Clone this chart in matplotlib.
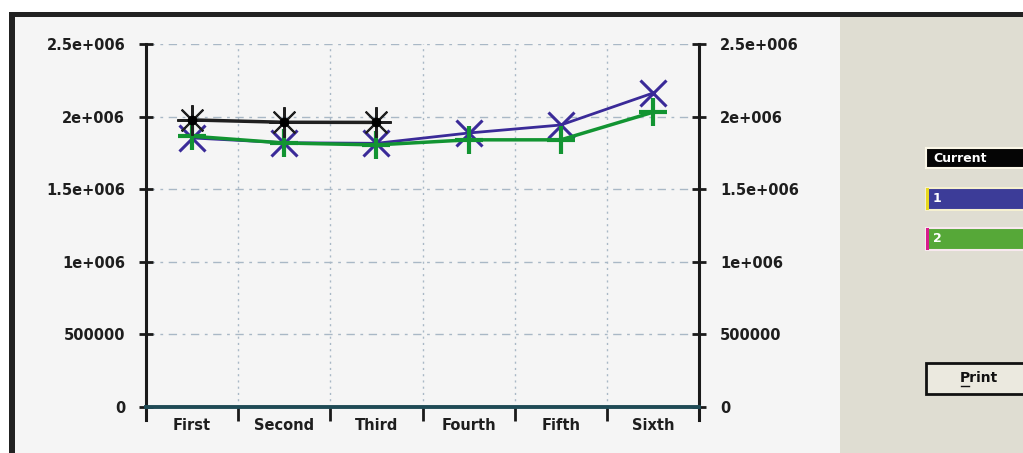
import matplotlib
matplotlib.use("Agg")
import matplotlib.pyplot as plt
from matplotlib.patches import Rectangle
import numpy as np

categories = ["First", "Second", "Third", "Fourth", "Fifth", "Sixth"]
current_vals = [1.977e6, 1.961e6, 1.960e6]
series1_vals = [1.853e6, 1.820e6, 1.816e6, 1.887e6, 1.942e6, 2.162e6]
series2_vals = [1.865e6, 1.818e6, 1.805e6, 1.840e6, 1.840e6, 2.030e6]
yticks = [0, 500000, 1000000, 1500000, 2000000, 2500000]
ytick_labels = ["0", "500000", "1e+006", "1.5e+006", "2e+006", "2.5e+006"]
legend_labels = ["Current", "1", "2"]

W, H = 1023, 453
fig = plt.figure(figsize=(W / 100, H / 100), dpi=100)
fig.patch.set_facecolor("white")

def px_rect(x0, y0, x1, y1, z=-5, **kw):
    r = Rectangle((x0 / W, 1 - y1 / H), (x1 - x0) / W, (y1 - y0) / H,
                  transform=fig.transFigure, zorder=z, **kw)
    fig.patches.append(r)
    return r

# backgrounds
px_rect(12, 14, 1023, 453, facecolor="#f5f5f5", edgecolor="none", z=-10)
px_rect(840, 16, 1023, 453, facecolor="#dfddd2", edgecolor="none", z=-9)
# borders
px_rect(10, 12, 1023, 17, facecolor="#222222", edgecolor="none", z=-8)
px_rect(9, 12, 15, 453, facecolor="#222222", edgecolor="none", z=-8)

# axes
ax_l, ax_r, ax_t, ax_b = 146, 699, 44, 407
ax = fig.add_axes([ax_l / W, 1 - ax_b / H, (ax_r - ax_l) / W, (ax_b - ax_t) / H])
ax.set_facecolor("none")
ax.set_xlim(0, 6)
ax.set_ylim(0, 2.5e6)

xc = np.arange(len(categories)) + 0.5

# grid
for yv in yticks[1:]:
    ax.axhline(yv, color="#a9b8c6", lw=1.0, ls=(0, (6, 4, 2, 4)), zorder=1)
for xv in range(1, 6):
    ax.axvline(xv, color="#a9b8c6", lw=1.0, ls=(0, (1.5, 3)), zorder=1)

# series
ax.plot(xc[:len(current_vals)], current_vals, color="#202020", lw=2.5,
        marker=(8, 2, 0), ms=22, mew=1.5, zorder=4, clip_on=False)
ax.plot(xc[:len(current_vals)], current_vals, ls="none", color="#000000",
        marker="o", ms=6, zorder=5)
ax.plot(xc, series1_vals, color="#3a2a98", lw=2.0, marker="x", ms=19, mew=2.2, zorder=3)
ax.plot(xc, series2_vals, color="#129432", lw=2.5, marker="+", ms=20, mew=3.0, zorder=3.5)

# spines
ax.spines["top"].set_visible(False)
ax.spines["left"].set_color("#1a1a1a")
ax.spines["left"].set_linewidth(2.2)
ax.spines["right"].set_color("#1a1a1a")
ax.spines["right"].set_linewidth(2.2)
ax.spines["bottom"].set_color("#1f4a55")
ax.spines["bottom"].set_linewidth(2.8)
ax.spines["left"].set_bounds(-0.09e6, 2.5e6)
ax.spines["right"].set_bounds(-0.09e6, 2.5e6)

ax.set_yticks(yticks)
ax.set_yticklabels(ytick_labels)
ax.tick_params(axis="y", which="major", direction="inout", length=10, width=2,
               color="#1a1a1a", left=True, right=True, labelleft=True, labelright=True,
               labelsize=10.5, pad=10)
for lab in ax.get_yticklabels():
    lab.set_fontweight("bold")
    lab.set_fontfamily("DejaVu Sans")
    lab.set_color("#1e1e1e")

ax.set_xticks(range(0, 7))
ax.set_xticklabels([""] * 7)
ax.set_xticks(xc, minor=True)
ax.set_xticklabels(categories, minor=True)
ax.tick_params(axis="x", which="major", direction="out", length=10, width=2, color="#1a1a1a")
ax.tick_params(axis="x", which="minor", length=0, labelsize=10.5, pad=8)
for lab in ax.get_xticklabels(minor=True):
    lab.set_fontweight("bold")
    lab.set_fontfamily("DejaVu Sans")
    lab.set_color("#1e1e1e")

# right panel legend boxes
box_colors = ["#050505", "#3c3c98", "#56a838"]
edge_colors = ["#fbf7e8", "#f5f0d0", "#f8e8ef"]
left_marks = [None, "#e8d820", "#d81c8c"]
box_y = [(148, 168), (188, 210), (228, 250)]
for lab, fc, ec, lm, (y0, y1) in zip(legend_labels, box_colors, edge_colors, left_marks, box_y):
    px_rect(926, y0, 1030, y1, facecolor=fc, edgecolor=ec, lw=1.5, z=1)
    if lm:
        px_rect(926, y0, 929, y1, facecolor=lm, edgecolor="none", z=2)
    fig.text(933 / W, 1 - ((y0 + y1) / 2) / H, lab, color="white", fontsize=9,
             fontweight="bold", fontfamily="DejaVu Sans", va="center", ha="left")

# Print button
px_rect(926, 363, 1030, 394, facecolor="#ebe9df", edgecolor="#111111", lw=2, z=1)
fig.text(979 / W, 1 - 378 / H, "Print", fontsize=10, fontweight="bold",
         fontfamily="DejaVu Sans", va="center", ha="center", color="#111111")
fig.lines.append(plt.Line2D([961 / W, 969 / W], [1 - 386 / H, 1 - 386 / H],
                            transform=fig.transFigure, color="#111111", lw=1))

fig.savefig("out.png", dpi=100, facecolor=fig.get_facecolor())
